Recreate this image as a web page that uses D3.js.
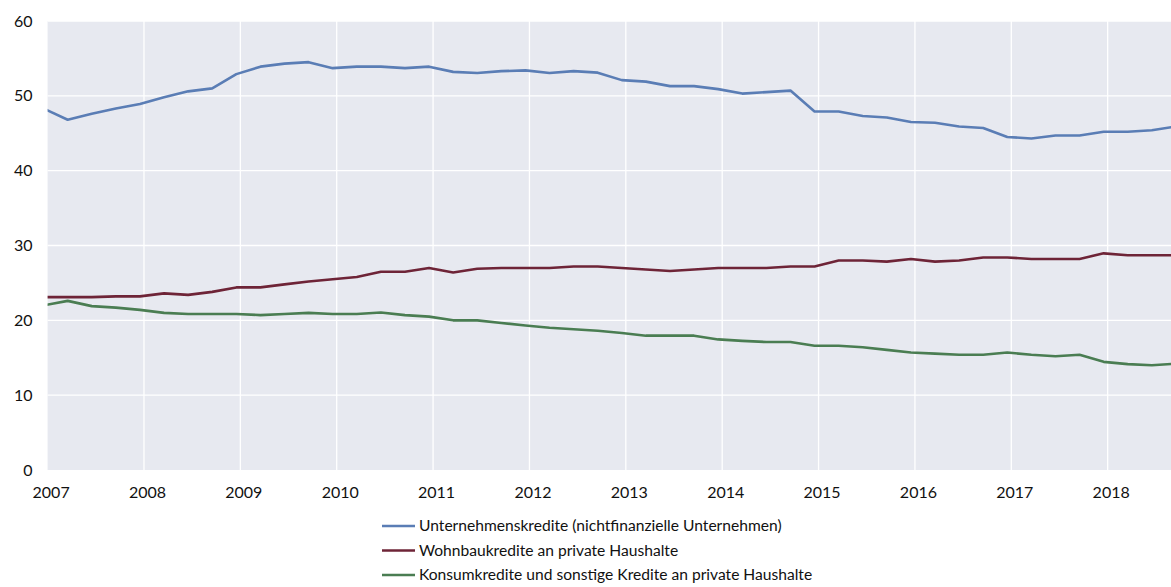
<!DOCTYPE html>
<html>
<head>
<meta charset="utf-8">
<script src="https://cdn.jsdelivr.net/npm/d3@7"></script>
<style>
  body { margin: 0; background: #fff; }
  svg { display: block; }
  text { font-family: Lato, "Open Sans", sans-serif; fill: #111; }
</style>
</head>
<body>
<svg id="chart" width="1171" height="587"></svg>
<script>
// Quarter-end months, Dec 2006 .. Sep 2018
const quarters = [
  "2006-12","2007-03","2007-06","2007-09","2007-12","2008-03","2008-06","2008-09","2008-12",
  "2009-03","2009-06","2009-09","2009-12","2010-03","2010-06","2010-09","2010-12",
  "2011-03","2011-06","2011-09","2011-12","2012-03","2012-06","2012-09","2012-12",
  "2013-03","2013-06","2013-09","2013-12","2014-03","2014-06","2014-09","2014-12",
  "2015-03","2015-06","2015-09","2015-12","2016-03","2016-06","2016-09","2016-12",
  "2017-03","2017-06","2017-09","2017-12","2018-03","2018-06","2018-09"
];
const unternehmen = [
  48.3,46.8,47.6,48.3,48.9,49.8,50.6,51.0,52.9,
  53.9,54.3,54.5,53.7,53.9,53.9,53.7,53.9,
  53.2,53.05,53.3,53.4,53.05,53.3,53.1,52.1,
  51.9,51.3,51.3,50.9,50.3,50.5,50.7,47.9,
  47.9,47.3,47.1,46.5,46.4,45.9,45.7,44.5,
  44.3,44.7,44.7,45.2,45.2,45.4,45.9
];
const wohnbau = [
  23.1,23.1,23.1,23.2,23.2,23.6,23.4,23.8,24.4,
  24.4,24.8,25.2,25.5,25.8,26.5,26.5,27.0,
  26.4,26.9,27.0,27.0,27.0,27.2,27.2,27.0,
  26.8,26.6,26.8,27.0,27.0,27.0,27.2,27.2,
  28.0,28.0,27.85,28.2,27.85,28.0,28.4,28.4,
  28.2,28.2,28.2,28.95,28.7,28.7,28.7
];
const konsum = [
  22.0,22.6,21.9,21.7,21.4,21.0,20.85,20.85,20.85,
  20.7,20.85,21.0,20.85,20.85,21.05,20.7,20.5,
  20.0,20.0,19.65,19.3,19.0,18.8,18.6,18.3,
  17.95,17.95,17.95,17.45,17.25,17.1,17.1,16.6,
  16.6,16.4,16.05,15.7,15.55,15.4,15.4,15.7,
  15.4,15.2,15.4,14.45,14.15,14.0,14.2
];
const seriesNames = [
  "Unternehmenskredite (nichtfinanzielle Unternehmen)",
  "Wohnbaukredite an private Haushalte",
  "Konsumkredite und sonstige Kredite an private Haushalte"
];
const seriesColors = ["#5a7db5", "#6e2437", "#4a7d52"];
const yearTicks = [2007,2008,2009,2010,2011,2012,2013,2014,2015,2016,2017,2018];
const yTicks = [0,10,20,30,40,50,60];

const svg = d3.select("#chart");
const plot = { left: 47.6, right: 1171, top: 21, bottom: 470 };

// decimal year at the middle of each quarter-end month
const toYear = s => { const [y, m] = s.split("-").map(Number); return y + (m - 0.5) / 12; };

const x = d3.scaleLinear().domain([2007, 2018 + (1171 - 47.6) / 96.37 - 11]).range([plot.left, plot.right]);
const y = d3.scaleLinear().domain([0, 60]).range([plot.bottom, plot.top]);

svg.append("rect")
  .attr("x", plot.left).attr("y", plot.top)
  .attr("width", plot.right - plot.left).attr("height", plot.bottom - plot.top)
  .attr("fill", "#e7e9f0");

svg.append("defs").append("clipPath").attr("id", "clip")
  .append("rect")
  .attr("x", plot.left).attr("y", plot.top)
  .attr("width", plot.right - plot.left).attr("height", plot.bottom - plot.top);

// grid
const grid = svg.append("g");
grid.selectAll("line.h").data(yTicks.filter(d => d > 0)).join("line")
  .attr("x1", plot.left).attr("x2", plot.right)
  .attr("y1", d => y(d)).attr("y2", d => y(d))
  .attr("stroke", "#fff").attr("stroke-width", 1.3);
grid.selectAll("line.v").data(yearTicks.filter(d => d > 2007)).join("line")
  .attr("x1", d => x(d)).attr("x2", d => x(d))
  .attr("y1", plot.top).attr("y2", plot.bottom)
  .attr("stroke", "#fff").attr("stroke-width", 1.3);

// axes
const xAxis = d3.axisBottom(x).tickValues(yearTicks).tickFormat(d3.format("d")).tickSize(0).tickPadding(17);
svg.append("g").attr("transform", `translate(3,${plot.bottom})`).call(xAxis)
  .call(g => g.select(".domain").remove())
  .selectAll("text").attr("font-size", 16).attr("font-family", "Lato, sans-serif").attr("fill", "#111");

const yAxis = d3.axisLeft(y).tickValues(yTicks).tickSize(0).tickPadding(15);
svg.append("g").attr("transform", `translate(${plot.left},0)`).call(yAxis)
  .call(g => g.select(".domain").remove())
  .selectAll("text").attr("font-size", 16).attr("font-family", "Lato, sans-serif").attr("fill", "#111");

// lines
const allSeries = [unternehmen, wohnbau, konsum];
const line = d3.line().x((d, i) => x(toYear(quarters[i]))).y(d => y(d));
const lines = svg.append("g").attr("clip-path", "url(#clip)");
allSeries.forEach((vals, k) => {
  lines.append("path").datum(vals)
    .attr("d", line)
    .attr("fill", "none")
    .attr("stroke", seriesColors[k])
    .attr("stroke-width", 2.6)
    .attr("stroke-linejoin", "round");
});

// legend
const legend = svg.append("g").attr("transform", "translate(382,526)");
seriesNames.forEach((name, k) => {
  const g = legend.append("g").attr("transform", `translate(0,${k * 24.5})`);
  g.append("line").attr("x1", 0).attr("x2", 33).attr("y1", 0).attr("y2", 0)
    .attr("stroke", seriesColors[k]).attr("stroke-width", 2.6);
  g.append("text").attr("x", 37).attr("y", 0).attr("dy", "0.35em")
    .attr("font-size", 15.6).text(name);
});
</script>
</body>
</html>
